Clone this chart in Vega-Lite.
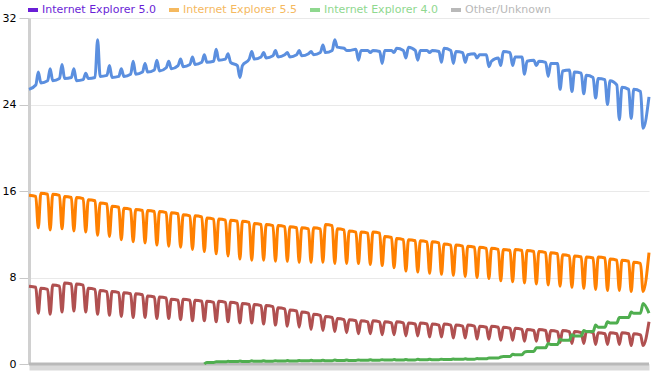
{
  "$schema": "https://vega.github.io/schema/vega-lite/v6.json",
  "width": 620,
  "height": 346,
  "autosize": "none",
  "padding": {"left": 29, "top": 18, "right": 18, "bottom": 11},
  "background": "white",
  "config": {"view": {"stroke": null}},
  "data": {"values": [
    {"d":0,"a":25.4,"b":15.6,"c":7.2,"o":0},{"d":4,"a":25.8,"b":15.5,"c":7.1},{"d":5.5,"a":27.0,"b":12.6,"c":4.7},
    {"d":7,"a":26.0,"b":15.8,"c":7.0},{"d":11,"a":26.2,"b":15.7,"c":6.9},{"d":12.5,"a":27.3,"b":12.4,"c":4.6},
    {"d":14,"a":26.2,"b":15.7,"c":7.3},{"d":18,"a":26.4,"b":15.6,"c":7.2},{"d":19.5,"a":27.7,"b":12.5,"c":4.8},
    {"d":21,"a":26.4,"b":15.5,"c":7.5},{"d":25,"a":26.5,"b":15.4,"c":7.4},{"d":26.5,"a":27.3,"b":12.3,"c":4.9},
    {"d":28,"a":26.2,"b":15.4,"c":7.4},{"d":32,"a":26.3,"b":15.3,"c":7.3},{"d":33.5,"a":26.9,"b":12.2,"c":4.8},
    {"d":35,"a":26.4,"b":15.2,"c":7.0},{"d":39,"a":26.5,"b":15.1,"c":6.9},{"d":40.5,"a":30.0,"b":11.9,"c":4.6},
    {"d":42,"a":26.6,"b":14.9,"c":6.8},{"d":46,"a":26.7,"b":14.8,"c":6.7},{"d":47.5,"a":27.6,"b":11.8,"c":4.5},
    {"d":49,"a":26.5,"b":14.6,"c":6.7},{"d":53,"a":26.6,"b":14.5,"c":6.6},{"d":54.5,"a":27.3,"b":11.5,"c":4.4},
    {"d":56,"a":26.6,"b":14.4,"c":6.6},{"d":60,"a":26.8,"b":14.3,"c":6.5},{"d":61.5,"a":28.0,"b":11.3,"c":4.3},
    {"d":63,"a":26.8,"b":14.3,"c":6.5},{"d":67,"a":27.0,"b":14.2,"c":6.4},{"d":68.5,"a":27.8,"b":11.2,"c":4.3},
    {"d":70,"a":27.0,"b":14.2,"c":6.3},{"d":74,"a":27.2,"b":14.1,"c":6.2},{"d":75.5,"a":28.1,"b":11.0,"c":4.2},
    {"d":77,"a":27.1,"b":14.1,"c":6.2},{"d":81,"a":27.4,"b":14.0,"c":6.1},{"d":82.5,"a":28.0,"b":10.9,"c":4.2},
    {"d":84,"a":27.3,"b":14.0,"c":6.0},{"d":88,"a":27.6,"b":13.9,"c":5.9},{"d":89.5,"a":28.2,"b":10.8,"c":4.1},
    {"d":91,"a":27.5,"b":13.8,"c":6.0},{"d":95,"a":27.7,"b":13.7,"c":5.9},{"d":96.5,"a":28.4,"b":10.6,"c":4.0},
    {"d":98,"a":27.7,"b":13.7,"c":5.9},{"d":102,"a":27.9,"b":13.6,"c":5.8},{"d":103.5,"a":28.6,"b":10.4,"c":4.0,"g":0.0},
    {"d":105,"a":27.9,"b":13.5,"c":5.8,"g":0.15},{"d":109,"a":28.0,"b":13.4,"c":5.7,"g":0.15},{"d":110.5,"a":29.1,"b":10.2,"c":3.9,"g":0.2},
    {"d":112,"a":28.1,"b":13.4,"c":5.8,"g":0.2},{"d":116,"a":28.2,"b":13.3,"c":5.7,"g":0.2},{"d":117.5,"a":28.7,"b":10.0,"c":3.9,"g":0.25},
    {"d":119,"a":27.9,"b":13.3,"c":5.7,"g":0.22},{"d":123,"a":27.6,"b":13.2,"c":5.6,"g":0.22},{"d":124.5,"a":26.5,"b":9.7,"c":3.8,"g":0.27},
    {"d":126,"a":27.6,"b":13.2,"c":5.6,"g":0.24},{"d":130,"a":28.2,"b":13.1,"c":5.5,"g":0.24},{"d":131.5,"a":28.9,"b":9.6,"c":3.8,"g":0.29},
    {"d":133,"a":28.2,"b":13.0,"c":5.5,"g":0.25},{"d":137,"a":28.4,"b":12.9,"c":5.4,"g":0.25},{"d":138.5,"a":28.8,"b":9.6,"c":3.7,"g":0.3},
    {"d":140,"a":28.3,"b":12.9,"c":5.4,"g":0.26},{"d":144,"a":28.5,"b":12.8,"c":5.3,"g":0.26},{"d":145.5,"a":29.0,"b":9.5,"c":3.6,"g":0.31},
    {"d":147,"a":28.4,"b":12.8,"c":5.2,"g":0.27},{"d":151,"a":28.6,"b":12.7,"c":5.1,"g":0.27},{"d":152.5,"a":28.8,"b":9.5,"c":3.5,"g":0.32},
    {"d":154,"a":28.4,"b":12.7,"c":5.0,"g":0.28},{"d":158,"a":28.6,"b":12.6,"c":4.9,"g":0.28},{"d":159.5,"a":29.0,"b":9.4,"c":3.4,"g":0.33},
    {"d":161,"a":28.5,"b":12.6,"c":4.8,"g":0.29},{"d":165,"a":28.7,"b":12.5,"c":4.7,"g":0.29},{"d":166.5,"a":28.9,"b":9.4,"c":3.2,"g":0.34},
    {"d":168,"a":28.6,"b":12.6,"c":4.6,"g":0.3},{"d":172,"a":28.8,"b":12.5,"c":4.5,"g":0.3},{"d":173.5,"a":29.5,"b":9.4,"c":3.1,"g":0.35},
    {"d":175,"a":28.8,"b":12.9,"c":4.4,"g":0.31},{"d":179,"a":29.0,"b":12.8,"c":4.3,"g":0.31},{"d":180.5,"a":30.0,"b":9.3,"c":3.0,"g":0.36},
    {"d":182,"a":29.3,"b":12.5,"c":4.2,"g":0.32},{"d":186,"a":29.2,"b":12.4,"c":4.1,"g":0.32},{"d":187.5,"a":29.0,"b":9.3,"c":2.9,"g":0.37},
    {"d":189,"a":29.0,"b":12.3,"c":4.1,"g":0.33},{"d":193,"a":29.1,"b":12.2,"c":4.0,"g":0.33},{"d":194.5,"a":28.1,"b":9.3,"c":2.8,"g":0.38},
    {"d":196,"a":29.0,"b":12.2,"c":4.0,"g":0.34},{"d":200,"a":29.0,"b":12.1,"c":3.9,"g":0.34},{"d":201.5,"a":28.8,"b":9.2,"c":2.8,"g":0.39},
    {"d":203,"a":29.0,"b":12.2,"c":4.0,"g":0.35},{"d":207,"a":28.9,"b":12.1,"c":3.9,"g":0.35},{"d":208.5,"a":27.8,"b":9.1,"c":2.7,"g":0.4},
    {"d":210,"a":29.0,"b":11.8,"c":3.9,"g":0.36},{"d":214,"a":29.0,"b":11.7,"c":3.8,"g":0.36},{"d":215.5,"a":28.8,"b":8.9,"c":2.7,"g":0.41},
    {"d":217,"a":29.2,"b":11.6,"c":3.9,"g":0.37},{"d":221,"a":29.0,"b":11.5,"c":3.8,"g":0.37},{"d":222.5,"a":28.3,"b":8.6,"c":2.6,"g":0.42},
    {"d":224,"a":29.3,"b":11.5,"c":3.8,"g":0.38},{"d":228,"a":29.0,"b":11.4,"c":3.7,"g":0.38},{"d":229.5,"a":28.1,"b":8.5,"c":2.6,"g":0.43},
    {"d":231,"a":29.0,"b":11.4,"c":3.8,"g":0.39},{"d":235,"a":29.0,"b":11.3,"c":3.7,"g":0.39},{"d":236.5,"a":28.8,"b":8.4,"c":2.5,"g":0.44},
    {"d":238,"a":29.0,"b":11.3,"c":3.7,"g":0.4},{"d":242,"a":28.9,"b":11.2,"c":3.6,"g":0.4},{"d":243.5,"a":27.9,"b":8.3,"c":2.5,"g":0.45},
    {"d":245,"a":29.2,"b":11.1,"c":3.7,"g":0.41},{"d":249,"a":29.0,"b":11.0,"c":3.6,"g":0.41},{"d":250.5,"a":27.8,"b":8.2,"c":2.4,"g":0.46},
    {"d":252,"a":28.9,"b":11.0,"c":3.6,"g":0.43},{"d":256,"a":28.8,"b":10.9,"c":3.5,"g":0.43},{"d":257.5,"a":27.9,"b":8.1,"c":2.4,"g":0.48},
    {"d":259,"a":28.6,"b":10.9,"c":3.6,"g":0.45},{"d":263,"a":28.7,"b":10.8,"c":3.5,"g":0.45},{"d":264.5,"a":28.3,"b":8.0,"c":2.3,"g":0.5},
    {"d":266,"a":28.6,"b":10.8,"c":3.5,"g":0.48},{"d":270,"a":28.6,"b":10.7,"c":3.4,"g":0.48},{"d":271.5,"a":27.5,"b":7.9,"c":2.3,"g":0.55},
    {"d":273,"a":28.0,"b":10.7,"c":3.5,"g":0.55},{"d":277,"a":28.3,"b":10.6,"c":3.4,"g":0.55},{"d":278.5,"a":27.6,"b":7.7,"c":2.2,"g":0.65},
    {"d":280,"a":28.9,"b":10.6,"c":3.4,"g":0.7},{"d":284,"a":28.8,"b":10.5,"c":3.3,"g":0.7},{"d":285.5,"a":27.6,"b":7.6,"c":2.2,"g":0.9},
    {"d":287,"a":28.4,"b":10.6,"c":3.3,"g":0.85},{"d":291,"a":28.4,"b":10.5,"c":3.2,"g":0.85},{"d":292.5,"a":26.8,"b":7.5,"c":2.1,"g":1.1},
    {"d":294,"a":28.0,"b":10.5,"c":3.2,"g":1.15},{"d":298,"a":28.1,"b":10.4,"c":3.1,"g":1.15},{"d":299.5,"a":27.6,"b":7.4,"c":2.1,"g":1.5},
    {"d":301,"a":28.0,"b":10.4,"c":3.2,"g":1.5},{"d":305,"a":27.9,"b":10.3,"c":3.1,"g":1.5},{"d":306.5,"a":26.6,"b":7.3,"c":2.0,"g":1.9},
    {"d":308,"a":27.8,"b":10.3,"c":3.1,"g":1.8},{"d":312,"a":27.8,"b":10.2,"c":3.0,"g":1.8},{"d":313.5,"a":25.4,"b":7.2,"c":2.0,"g":2.3},
    {"d":315,"a":27.1,"b":10.1,"c":3.1,"g":2.2},{"d":319,"a":27.2,"b":10.0,"c":3.0,"g":2.2},{"d":320.5,"a":25.2,"b":7.1,"c":1.9,"g":2.7},
    {"d":322,"a":27.0,"b":10.0,"c":3.0,"g":2.6},{"d":326,"a":26.9,"b":9.9,"c":2.9,"g":2.6},{"d":327.5,"a":25.0,"b":7.0,"c":1.9,"g":3.1},
    {"d":329,"a":26.7,"b":9.9,"c":3.0,"g":3.0},{"d":333,"a":26.5,"b":9.8,"c":2.9,"g":3.0},{"d":334.5,"a":24.6,"b":6.9,"c":1.8,"g":3.6},
    {"d":336,"a":26.4,"b":9.9,"c":2.9,"g":3.4},{"d":340,"a":26.3,"b":9.8,"c":2.8,"g":3.4},{"d":341.5,"a":24.0,"b":6.8,"c":1.8,"g":3.9},
    {"d":343,"a":26.2,"b":9.7,"c":2.9,"g":3.8},{"d":347,"a":25.8,"b":9.6,"c":2.8,"g":3.8},{"d":348.5,"a":22.6,"b":6.8,"c":1.8,"g":4.3},
    {"d":350,"a":25.6,"b":9.6,"c":2.9,"g":4.3},{"d":354,"a":25.4,"b":9.5,"c":2.8,"g":4.3},{"d":355.5,"a":22.7,"b":6.7,"c":1.7,"g":4.8},
    {"d":357,"a":25.4,"b":9.4,"c":2.8,"g":4.7},{"d":361,"a":25.2,"b":9.3,"c":2.7,"g":4.7},{"d":362.5,"a":21.8,"b":6.7,"c":1.7,"g":5.6},
    {"d":366,"a":24.7,"b":10.3,"c":3.9,"g":4.7,"o":0}
  ]},
  "transform": [
    {"fold": ["o", "a", "b", "c", "g"], "as": ["s", "v"]},
    {"filter": "isValid(datum.v)"}
  ],
  "mark": {"type": "line", "strokeWidth": 3, "strokeJoin": "round", "interpolate": "monotone"},
  "encoding": {
    "x": {
      "field": "d", "type": "quantitative",
      "scale": {"domain": [0, 366], "nice": false, "zero": false},
      "axis": {"title": null, "labels": false, "ticks": false, "grid": false, "domain": true, "domainColor": "#d9d9d9", "domainWidth": 6, "offset": 3}
    },
    "y": {
      "field": "v", "type": "quantitative",
      "scale": {"domain": [0, 32], "nice": false},
      "axis": {"title": null, "values": [0, 8, 16, 24, 32], "grid": true, "gridColor": "#e9e9e9", "domainColor": "#d0d0d0", "domainWidth": 3, "tickColor": "#c8c8c8", "tickSize": 10, "labelPadding": 3, "labelFont": "DejaVu Sans", "labelFontSize": 11, "labelColor": "#000000"}
    },
    "color": {
      "field": "s", "type": "nominal",
      "scale": {"domain": ["p", "q", "r", "o", "a", "b", "c", "g"], "range": ["#6a1fd6", "#f5b95f", "#8fd88f", "#b9b9b9", "#5b8fdf", "#ff8000", "#b05050", "#4fae4f"]},
      "legend": {
        "orient": "none", "legendX": -3, "legendY": -15, "direction": "horizontal",
        "gridAlign": "none",
        "values": ["p", "q", "r", "o"], "title": null,
        "symbolType": "stroke", "symbolStrokeWidth": 4, "symbolSize": 100,
        "labelFont": "DejaVu Sans", "labelFontSize": 11, "labelOffset": 2, "columnPadding": 5, "labelLimit": 0,
        "labelExpr": "datum.value == 'p' ? 'Internet Explorer 5.0' : datum.value == 'q' ? 'Internet Explorer 5.5' : datum.value == 'r' ? 'Internet Explorer 4.0' : 'Other/Unknown'",
        "encode": {"labels": {"update": {"fill": {"scale": "color", "field": "value"}}}}
      }
    }
  }
}
